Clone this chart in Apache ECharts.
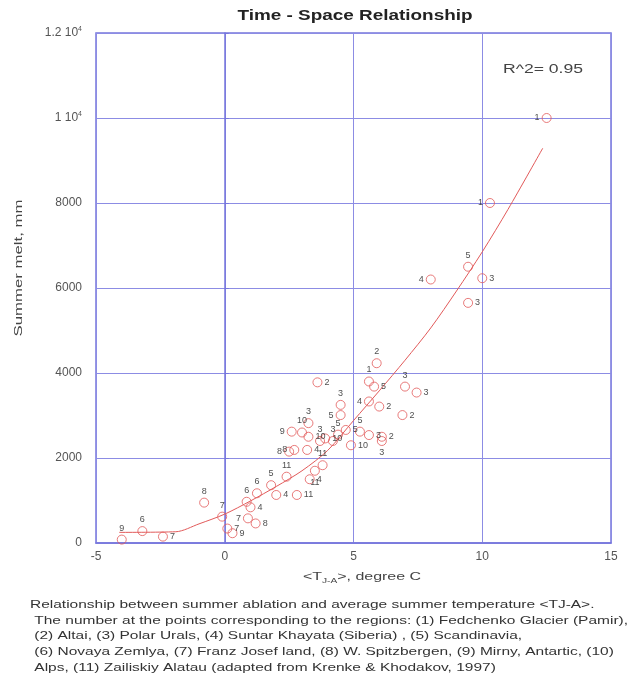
<!DOCTYPE html>
<html>
<head>
<meta charset="utf-8">
<script src="https://cdn.jsdelivr.net/npm/echarts@6/dist/echarts.min.js"></script>
<style>
  html, body { margin: 0; padding: 0; background: #fff; }
  #main { width: 634px; height: 687px; }
</style>
</head>
<body>
<div id="main"></div>
<script>
/* ============================
   DATA
============================ */
// observed points: temperature (degree C), summer melt (mm), region number
const tempX = [
    -4.0, -3.2, -2.4, -0.8, -0.1, 0.1, 0.3,
    0.85, 1.0, 0.9, 1.2, 1.25, 1.8, 2.0, 2.4, 2.5, 2.6, 2.8,
    2.7, 3.2, 3.25, 3.25, 3.0, 3.8, 3.5, 3.9, 3.3, 3.7,
    3.6, 4.5, 4.5, 4.7, 4.9, 4.2, 4.4, 5.25,
    5.6, 5.9, 5.8, 5.6, 6.0, 6.1, 6.1, 5.6, 6.9, 7.0, 7.45,
    8.0, 9.45, 10.0, 9.45, 10.3, 12.5
];
const meltY = [
    80, 280, 150, 950, 620, 340, 230,
    970, 840, 580, 460, 1170, 1360, 1130, 1560, 2150, 2620, 1130,
    2190, 2190, 2820, 2500, 2600, 1830, 1700, 2460, 1500, 2400,
    3780, 3250, 3010, 2660, 2300, 2400, 2550, 2620,
    3800, 4230, 3680, 3330, 3210, 2500, 2400, 2540, 3010, 3680, 3540,
    6200, 6500, 6230, 5650, 8000, 10000
];
const regionNo = [
    '9', '6', '7', '8', '7', '7', '9',
    '6', '4', '7', '8', '6', '5', '4', '11', '8', '9', '11',
    '8', '4', '3', '10', '10', '11', '11', '10', '4', '3',
    '2', '3', '5', '5', '10', '3', '5', '5',
    '1', '2', '5', '4', '2', '2', '3', '3', '2', '3', '3',
    '4', '5', '3', '3', '1', '1'
];
// which side of the marker the number is written
const labelSide = [
    'top', 'top', 'right', 'top', 'top', 'right', 'right',
    'top', 'right', 'left', 'right', 'top', 'top', 'right', 'top', 'left', 'left', 'right',
    'left', 'right', 'top', 'right', 'top', 'top', 'bottom', 'right', 'right', 'top',
    'right', 'top', 'left', 'right', 'right', 'top', 'top', 'top',
    'top', 'top', 'right', 'left', 'right', 'right', 'bottom', 'right', 'right', 'top', 'right',
    'left', 'top', 'right', 'right', 'left', 'left'
];

// fitted curve
const fitX = [-4.1, -1.9, -1, 0, 1, 2, 3, 4, 5, 6, 7, 8, 9, 10, 11, 12.35];
const fitY = [250, 265, 450, 680, 990, 1330, 1700, 2180, 2880, 3580, 4300, 5060, 5930, 6850, 7850, 9290];

const xTicks = [-5, 0, 5, 10, 15];
const yTicks = [0, 2000, 4000, 6000, 8000, 10000, 12000];

const captionLines = [
    'Relationship between summer ablation and average summer temperature <TJ-A>.',
    ' The number at the points corresponding to the regions: (1) Fedchenko Glacier (Pamir),',
    ' (2) Altai, (3) Polar Urals, (4) Suntar Khayata (Siberia) , (5) Scandinavia,',
    ' (6) Novaya Zemlya, (7) Franz Josef land, (8) W. Spitzbergen, (9) Mirny, Antartic, (10)',
    ' Alps, (11) Zailiskiy Alatau (adapted from Krenke & Khodakov, 1997)'
];

/* ============================
   CHART
============================ */
const FONT = '"Liberation Sans", Arial, sans-serif';
const BLUE = '#7676dc';
const GRIDC = '#8c8ce4';
const RED = '#e25a5a';

// horizontal stretch so a text fills a given width
const ctx = document.createElement('canvas').getContext('2d');
function anchoTexto(text, font, width) {
    ctx.font = font;
    return width / ctx.measureText(text).width;
}

function yLabel(v) {
    if (v === 10000) return '1 10{sup|4}';
    if (v === 12000) return '1.2 10{sup|4}';
    return String(v);
}

const puntos = tempX.map((x, i) => ({
    value: [x, meltY[i]],
    label: { position: labelSide[i] }
}));

const fontTitulo = 'bold 14px ' + FONT;
const fontCaption = '10.5px ' + FONT;
const escalaCaption = anchoTexto(captionLines[1], fontCaption, 598);
const fontYName = '11px ' + FONT;

const chart = echarts.init(document.getElementById('main'));

chart.setOption({
    animation: false,
    backgroundColor: '#fff',
    grid: {
        left: 96, right: 23, top: 33, bottom: 144,
        show: true, borderColor: BLUE, borderWidth: 1.5
    },
    xAxis: {
        type: 'value', min: -5, max: 15, interval: 5,
        axisLine: { lineStyle: { color: BLUE, width: 1.5 } },
        axisTick: { show: false },
        splitLine: { lineStyle: { color: GRIDC, width: 1 } },
        axisLabel: {
            fontFamily: FONT, fontSize: 12, color: '#555', margin: 8,
            formatter: v => xTicks.includes(v) ? String(v) : ''
        }
    },
    yAxis: {
        type: 'value', min: 0, max: 12000, interval: 2000,
        axisLine: { show: true, lineStyle: { color: BLUE, width: 1.5 } },
        axisTick: { show: true, inside: true, length: 4, lineStyle: { color: BLUE } },
        splitLine: { lineStyle: { color: GRIDC, width: 1 } },
        axisLabel: {
            fontFamily: FONT, fontSize: 12, color: '#555', margin: 14,
            formatter: v => yTicks.includes(v) ? yLabel(v) : '',
            rich: { sup: { fontSize: 7, verticalAlign: 'top', padding: [0, 0, 7, 0], color: '#555' } }
        }
    },
    series: [
        {
            type: 'line',
            data: fitX.map((x, i) => [x, fitY[i]]),
            smooth: 0.3,
            showSymbol: false,
            lineStyle: { color: RED, width: 1 },
            z: 2
        },
        {
            type: 'scatter',
            data: puntos,
            symbol: 'circle',
            symbolSize: 9,
            itemStyle: { color: 'rgba(255,255,255,0)', borderColor: RED, borderWidth: 1 },
            label: {
                show: true,
                formatter: p => regionNo[p.dataIndex],
                fontFamily: FONT, fontSize: 9, color: '#222', distance: 2
            },
            z: 3
        }
    ],
    graphic: [
        {
            type: 'text', x: 355, y: 16,
            scaleX: anchoTexto('Time - Space Relationship', fontTitulo, 235),
            style: {
                text: 'Time - Space Relationship', font: fontTitulo, fill: '#222',
                align: 'center', verticalAlign: 'middle'
            }
        },
        {
            type: 'text', x: 503, y: 70,
            scaleX: anchoTexto('R^2= 0.95', '12px ' + FONT, 80),
            style: { text: 'R^2= 0.95', font: '12px ' + FONT, fill: '#444', verticalAlign: 'middle' }
        },
        {
            type: 'text', x: 362, y: 577, scaleX: 1.45,
            style: {
                text: '<T{sub|J-A}>, degree C', font: '11px ' + FONT, fill: '#444',
                align: 'center', verticalAlign: 'middle',
                rich: { sub: { fontSize: 7, padding: [9, 0, 0, 0], fill: '#444' } }
            }
        },
        {
            type: 'text', x: 19, y: 268, rotation: Math.PI / 2,
            scaleX: anchoTexto('Summer melt, mm', fontYName, 137),
            style: {
                text: 'Summer melt, mm', font: fontYName, fill: '#444',
                align: 'center', verticalAlign: 'middle'
            }
        },
        ...captionLines.map((t, i) => ({
            type: 'text', x: 30, y: 605 + i * 15.7,
            scaleX: escalaCaption,
            style: { text: t, font: fontCaption, fill: '#333', verticalAlign: 'middle' }
        }))
    ]
});
</script>
</body>
</html>
